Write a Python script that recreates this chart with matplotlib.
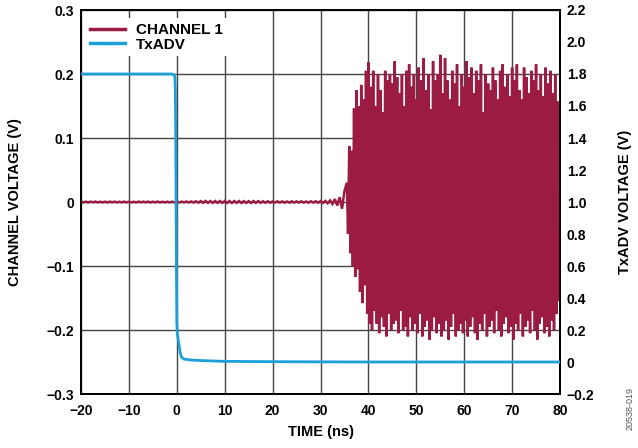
import numpy as np
import matplotlib
matplotlib.use("Agg")
import matplotlib.pyplot as plt
from matplotlib.lines import Line2D

plt.rcParams['font.family'] = ['Liberation Sans', 'DejaVu Sans']
plt.rcParams['font.weight'] = 'bold'

# ---------------- data ----------------
x_ticks = [-20, -10, 0, 10, 20, 30, 40, 50, 60, 70, 80]
x_tick_labels = ['−20', '−10', '0', '10', '20', '30', '40', '50', '60', '70', '80']
left_ticks = [0.3, 0.2, 0.1, 0.0, -0.1, -0.2, -0.3]
left_tick_labels = ['0.3', '0.2', '0.1', '0', '−0.1', '−0.2', '−0.3']
right_ticks = [2.2, 2.0, 1.8, 1.6, 1.4, 1.2, 1.0, 0.8, 0.6, 0.4, 0.2, 0.0, -0.2]
right_tick_labels = ['2.2', '2.0', '1.8', '1.6', '1.4', '1.2', '1.0', '0.8',
                     '0.6', '0.4', '0.2', '0', '−0.2']

# CHANNEL 1 before the burst, sampled every 0.5 ns from -20 ns to 35 ns (V)
ch1_pre_start = -20.0
ch1_pre_step = 0.5
ch1_pre = [
    0.0006, -0.0005, 0.0004, -0.0006, 0.0005, -0.0004, 0.0006, -0.0005, 0.0004, -0.0006,
    0.0005, -0.0006, 0.0006, -0.0004, 0.0005, -0.0006, 0.0004, -0.0005, 0.0006, -0.0005,
    0.0005, -0.0006, 0.0004, -0.0006, 0.0006, -0.0005, 0.0005, -0.0004, 0.0006, -0.0006,
    0.0005, -0.0005, 0.0006, -0.0005, 0.0004, -0.0006, 0.0005, -0.0006, 0.0005, -0.0005,
    0.0006, -0.0007, 0.0006, -0.0005, 0.0008, -0.0007, 0.0009, -0.0008, 0.0011, -0.0010,
    0.0015, -0.0012, 0.0016, -0.0013, 0.0015, -0.0014, 0.0016, -0.0013, 0.0015, -0.0014,
    0.0016, -0.0014, 0.0014, -0.0016, 0.0015, -0.0013, 0.0016, -0.0015, 0.0014, -0.0014,
    0.0013, -0.0015, 0.0014, -0.0013, 0.0014, -0.0012, 0.0011, -0.0012, 0.0011, -0.0010,
    0.0009, -0.0008, 0.0010, -0.0008, 0.0009, -0.0010, 0.0008, -0.0009, 0.0010, -0.0008,
    0.0009, -0.0008, 0.0010, -0.0009, 0.0008, -0.0010, 0.0011, -0.0009, 0.0012, -0.0011,
    0.0013, -0.0015, 0.0017, -0.0020, 0.0025, -0.0030, 0.0045, -0.0055, 0.0075, -0.0105,
    0.0170,
]

# CHANNEL 1 burst: positive peaks at 35.5, 36.0, ... 79.5 ns
ch1_burst_start = 35.5
ch1_burst_half = 0.25
ch1_peaks_top = [
    0.030, 0.087, 0.080, 0.146, 0.175, 0.150, 0.183, 0.160, 0.205, 0.218,
    0.180, 0.205, 0.150, 0.200, 0.175, 0.140, 0.205, 0.190, 0.200, 0.185,
    0.220, 0.195, 0.170, 0.200, 0.150, 0.205, 0.215, 0.180, 0.200, 0.160,
    0.210, 0.190, 0.225, 0.175, 0.200, 0.145, 0.220, 0.190, 0.200, 0.230,
    0.170, 0.225, 0.190, 0.160, 0.205, 0.185, 0.215, 0.150, 0.200, 0.180,
    0.220, 0.195, 0.210, 0.170, 0.205, 0.190, 0.215, 0.140, 0.200, 0.185,
    0.175, 0.210, 0.190, 0.160, 0.205, 0.215, 0.180, 0.200, 0.165, 0.210,
    0.190, 0.215, 0.175, 0.160, 0.210, 0.195, 0.170, 0.205, 0.190, 0.215,
    0.175, 0.200, 0.165, 0.210, 0.185, 0.205, 0.170, 0.200, 0.157,
]
# negative peaks at 35.75, 36.25, ... 79.75 ns
ch1_peaks_bot = [
    -0.050, -0.080, -0.100, -0.117, -0.105, -0.140, -0.158, -0.130, -0.175, -0.190,
    -0.200, -0.170, -0.190, -0.205, -0.180, -0.195, -0.210, -0.175, -0.200, -0.190,
    -0.185, -0.205, -0.170, -0.200, -0.195, -0.210, -0.180, -0.200, -0.190, -0.205,
    -0.175, -0.210, -0.195, -0.185, -0.215, -0.200, -0.180, -0.205, -0.190, -0.210,
    -0.200, -0.185, -0.215, -0.195, -0.175, -0.210, -0.200, -0.190, -0.205, -0.185,
    -0.210, -0.195, -0.180, -0.205, -0.215, -0.190, -0.200, -0.175, -0.210, -0.195,
    -0.185, -0.205, -0.170, -0.200, -0.210, -0.190, -0.180, -0.205, -0.195, -0.215,
    -0.190, -0.200, -0.175, -0.210, -0.195, -0.185, -0.205, -0.170, -0.200, -0.215,
    -0.190, -0.180, -0.205, -0.195, -0.210, -0.185, -0.200, -0.175, -0.153,
]

# TxADV (right axis)
txadv_t = [-20.0, -5.0, -1.0, -0.6, -0.4, -0.3, -0.2, -0.1, 0.0, 0.1, 0.2, 0.4,
           0.7, 1.0, 1.5, 3.0, 6.0, 10.0, 20.0, 40.0, 60.0, 80.0]
txadv_v = [1.800, 1.800, 1.800, 1.795, 1.780, 1.700, 1.300, 0.700, 0.250, 0.180,
           0.160, 0.120, 0.060, 0.030, 0.018, 0.012, 0.008, 0.004, 0.002, 0.0,
           0.0, 0.0]

# ---------------- build series ----------------
pre_t = ch1_pre_start + ch1_pre_step * np.arange(len(ch1_pre))
burst_v = np.empty(len(ch1_peaks_top) + len(ch1_peaks_bot))
burst_v[0::2] = ch1_peaks_top
burst_v[1::2] = ch1_peaks_bot
burst_t = ch1_burst_start + ch1_burst_half * np.arange(len(burst_v))
ch1_t = np.concatenate([pre_t, burst_t])
ch1_v = np.concatenate([np.array(ch1_pre), burst_v])

RED = '#9C1B42'
BLUE = '#1CA0DA'
GRID = '#444444'

W, H = 638, 448
fig = plt.figure(figsize=(W / 100, H / 100), dpi=100)
L, R, T, B = 81, 560, 10, 394
ax = fig.add_axes([L / W, (H - B) / H, (R - L) / W, (B - T) / H])

ax.plot(ch1_t, ch1_v, color=RED, lw=1.8, solid_joinstyle='miter', zorder=3)
ax.set_xlim(-20, 80)
ax.set_ylim(-0.3, 0.3)
ax.set_xticks(x_ticks)
ax.set_xticklabels(x_tick_labels)
ax.set_yticks(left_ticks)
ax.set_yticklabels(left_tick_labels)
ax.grid(True, color=GRID, lw=1.0)
ax.set_axisbelow(True)
ax.tick_params(length=0, labelsize=10, pad=5)
ax.tick_params(axis='x', pad=7)
for s in ax.spines.values():
    s.set_linewidth(1.3)
    s.set_color('black')

ax2 = ax.twinx()
ax2.plot(txadv_t, txadv_v, color=BLUE, lw=2.0, zorder=4)
ax2.set_ylim(-0.2, 2.2)
ax2.set_yticks(right_ticks)
ax2.set_yticklabels(right_tick_labels)
ax2.tick_params(length=0, labelsize=10, pad=5)
for s in ax2.spines.values():
    s.set_linewidth(1.3)
    s.set_color('black')

handles = [Line2D([], [], color=RED, lw=2.5), Line2D([], [], color=BLUE, lw=2.5)]
leg = ax2.legend(handles, ['CHANNEL 1', 'TxADV'], loc='upper left',
                 bbox_to_anchor=(0.0, 0.99), frameon=True, fancybox=False,
                 edgecolor='none', facecolor='white', framealpha=1.0,
                 prop={'size': 11, 'weight': 'bold'}, handlelength=2.3,
                 handletextpad=0.7, labelspacing=0.05, borderpad=0.3,
                 borderaxespad=0.3)
leg.set_zorder(10)

fig.text(15 / W, 1 - ((T + B) / 2) / H, 'CHANNEL VOLTAGE (V)', rotation=90,
         ha='center', va='center', fontsize=10.5, fontweight='bold')
fig.text(625 / W, 1 - ((T + B) / 2) / H, 'TxADV VOLTAGE (V)', rotation=90,
         ha='center', va='center', fontsize=10.5, fontweight='bold')
fig.text(((L + R) / 2) / W, 1 - 432 / H, 'TIME (ns)', ha='center', va='center',
         fontsize=10.5, fontweight='bold')
fig.text(630 / W, 1 - 408 / H, '20538-019', rotation=90, ha='center',
         va='center', fontsize=6.5, fontweight='normal', color='#555555')

fig.savefig('out.png', dpi=100)
